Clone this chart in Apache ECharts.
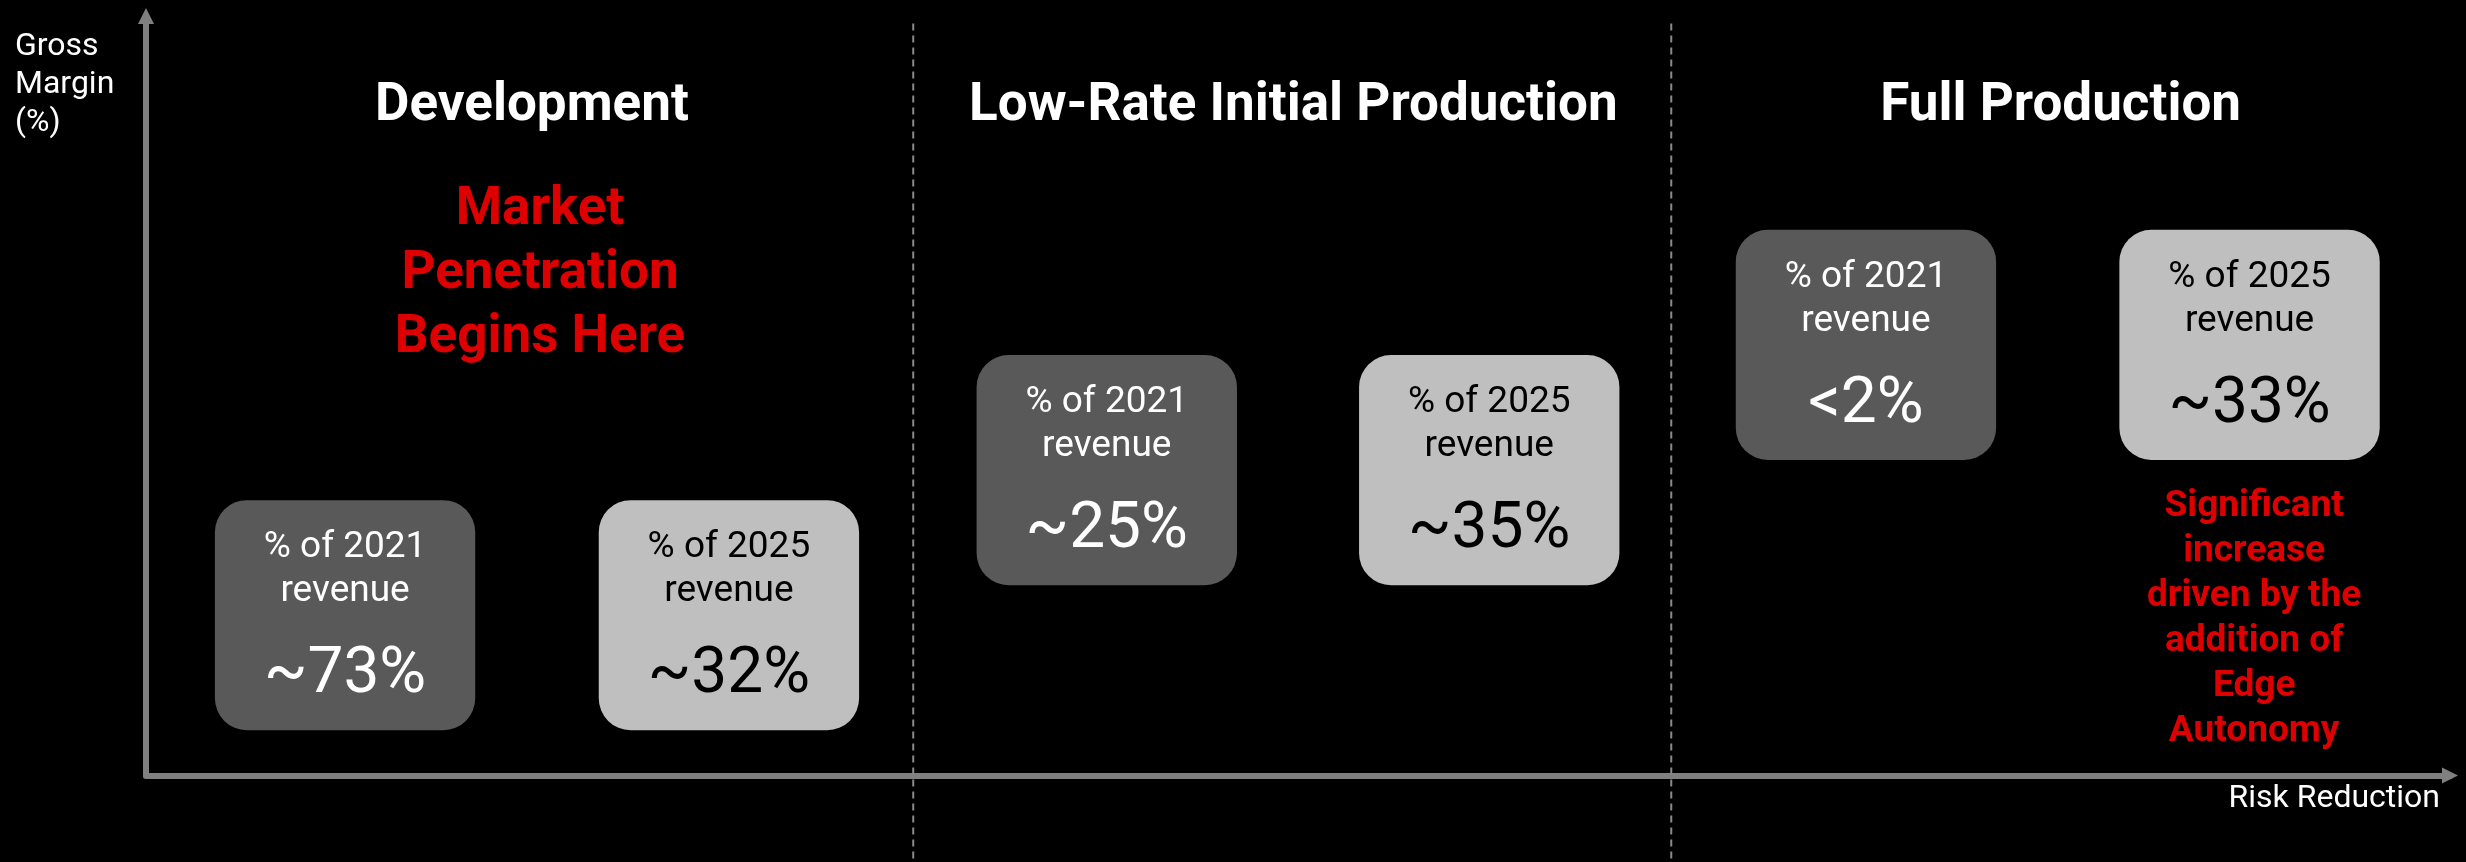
<!DOCTYPE html>
<html>
<head>
<meta charset="utf-8">
<title>Gross Margin vs Risk Reduction</title>
<script src="https://cdn.jsdelivr.net/npm/echarts@6/dist/echarts.min.js"></script>
<style>
  html, body { margin: 0; padding: 0; background: #000; }
  #chart { width: 2466px; height: 862px; }
</style>
</head>
<body>
<div id="chart"></div>
<script>
// Phases along the risk-reduction axis (0–100 scale)
const phases = ['Development', 'Low-Rate Initial Production', 'Full Production'];
const phaseTitleX = [16.75, 49.8, 83.1];
const phaseTitleY = 88.1;
const phaseBoundaries = [33.3, 66.2];

// Revenue-share boxes: position on the chart (risk reduction, gross margin level)
const boxX = [8.64, 25.3, 41.7, 58.3, 74.65, 91.3];
const boxY = [21.1, 21.1, 40.2, 40.2, 56.7, 56.7];
const boxYear = ['2021', '2025', '2021', '2025', '2021', '2025'];
const boxValue = ['~73%', '~32%', '~25%', '~35%', '<2%', '~33%'];

// Highlighted notes
const noteText = [
  'Market\nPenetration\nBegins Here',
  'Significant\nincrease\ndriven by the\naddition of\nEdge\nAutonomy'
];
const noteX = [17.1, 91.5];
const noteY = [65.9, 20.6];

// Axis titles
const yAxisTitle = 'Gross\nMargin\n(%)';
const xAxisTitle = 'Risk Reduction';

const FONT = 'Roboto, "Noto Sans", sans-serif';
const RED = '#de0000';
const AXIS_GREY = '#808080';
const BOX_W = 11.3;   // box width in x units
const BOX_H = 30.3;   // box height in y units

const chart = echarts.init(document.getElementById('chart'), null, { renderer: 'canvas' });

const option = {
  backgroundColor: '#000',
  animation: false,
  title: [{
    text: yAxisTitle,
    left: 15,
    top: 28,
    padding: 0,
    textStyle: { color: '#fff', fontFamily: FONT, fontWeight: 'normal', fontSize: 32, lineHeight: 38 }
  }],
  grid: { left: 146, right: 16, top: 16, bottom: 86.5, containLabel: false },
  xAxis: {
    type: 'value', min: 0, max: 100,
    name: xAxisTitle,
    nameLocation: 'end',
    nameGap: -10,
    nameTextStyle: {
      color: '#fff', fontFamily: FONT, fontSize: 32,
      align: 'right', verticalAlign: 'top', padding: [7, 0, 0, 0]
    },
    axisLine: {
      show: true, symbol: ['none', 'triangle'], symbolSize: [16, 16],
      lineStyle: { color: AXIS_GREY, width: 6 }
    },
    axisTick: { show: false }, axisLabel: { show: false }, splitLine: { show: false }
  },
  yAxis: {
    type: 'value', min: 0, max: 100,
    axisLine: {
      show: true, symbol: ['none', 'triangle'], symbolSize: [16, 16],
      lineStyle: { color: AXIS_GREY, width: 6 }
    },
    axisTick: { show: false }, axisLabel: { show: false }, splitLine: { show: false }
  },
  series: [
    {
      // dashed separators between phases, running past the axis to the bottom edge
      type: 'custom',
      name: 'phase boundaries',
      silent: true,
      z: 1,
      data: phaseBoundaries.map(b => [b, 0]),
      renderItem(params, api) {
        const x = api.value(0);
        const p1 = api.coord([x, 99]);
        const p2 = api.coord([x, -12]);
        return {
          type: 'line',
          shape: { x1: p1[0], y1: p1[1], x2: p2[0], y2: p2[1] },
          style: { stroke: '#8a8a8a', lineWidth: 2, lineDash: [7, 5] }
        };
      }
    },
    {
      type: 'custom',
      name: 'phase titles',
      silent: true,
      data: phaseTitleX.map((x, i) => [x, phaseTitleY, i]),
      renderItem(params, api) {
        const p = api.coord([api.value(0), api.value(1)]);
        return {
          type: 'text', x: p[0], y: p[1],
          style: {
            text: phases[api.value(2)], fill: '#fff',
            fontFamily: FONT, fontWeight: 'bold', fontSize: 53,
            align: 'center', verticalAlign: 'middle'
          }
        };
      }
    },
    {
      type: 'custom',
      name: 'revenue share',
      silent: true,
      z: 3,
      data: boxX.map((x, i) => [x, boxY[i], i]),
      renderItem(params, api) {
        const i = api.value(2);
        const c = api.coord([api.value(0), api.value(1)]);
        const s = api.size([BOX_W, BOX_H]);
        const dark = boxYear[i] === '2021';
        const fg = dark ? '#fff' : '#000';
        const top = c[1] - s[1] / 2;
        return {
          type: 'group',
          children: [
            {
              type: 'rect',
              shape: { x: c[0] - s[0] / 2, y: top, width: s[0], height: s[1], r: 32 },
              style: { fill: dark ? '#595959' : '#bfbfbf' }
            },
            {
              type: 'text', x: c[0], y: top + 48,
              style: { text: '% of ' + boxYear[i], fill: fg, fontFamily: FONT, fontSize: 37,
                       align: 'center', verticalAlign: 'middle' }
            },
            {
              type: 'text', x: c[0], y: top + 92,
              style: { text: 'revenue', fill: fg, fontFamily: FONT, fontSize: 37,
                       align: 'center', verticalAlign: 'middle' }
            },
            {
              type: 'text', x: c[0], y: top + 176,
              style: { text: boxValue[i], fill: fg, fontFamily: FONT, fontSize: 64,
                       align: 'center', verticalAlign: 'middle' }
            }
          ]
        };
      }
    },
    {
      type: 'custom',
      name: 'notes',
      silent: true,
      data: noteX.map((x, i) => [x, noteY[i], i]),
      renderItem(params, api) {
        const i = api.value(2);
        const p = api.coord([api.value(0), api.value(1)]);
        const big = i === 0;
        return {
          type: 'text', x: p[0], y: p[1],
          style: {
            text: noteText[i], fill: RED,
            fontFamily: FONT, fontWeight: 'bold',
            fontSize: big ? 53 : 37, lineHeight: big ? 64 : 45,
            align: 'center', verticalAlign: 'middle'
          }
        };
      }
    }
  ]
};

chart.setOption(option);
</script>
</body>
</html>
